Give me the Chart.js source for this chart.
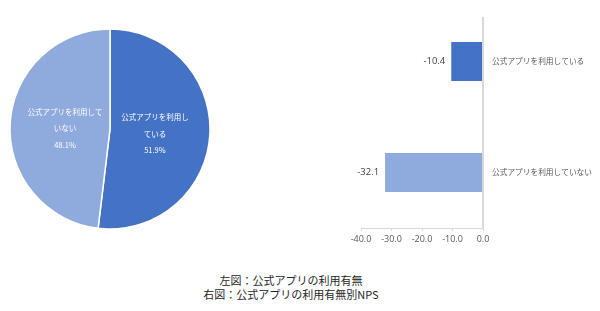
<!DOCTYPE html>
<html>
<head>
<meta charset="utf-8">
<script src="https://cdn.jsdelivr.net/npm/chart.js@4.4.1/dist/chart.umd.min.js"></script>
<style>
  html, body { margin: 0; padding: 0; background: #fff; }
  #wrap { position: relative; width: 600px; height: 311px; overflow: hidden; }
  #pieBox { position: absolute; left: 5px; top: 24px; width: 210px; height: 210px; }
  #barBox { position: absolute; left: 330px; top: 0; width: 270px; height: 260px; }
  #caption {
    position: absolute; left: 0; top: 273px; width: 582px;
    text-align: center; font: 11px 'Noto Sans CJK JP', sans-serif;
    line-height: 14px; color: #262626;
  }
</style>
</head>
<body>
<div id="wrap">
  <div id="pieBox"><canvas id="pieChart"></canvas></div>
  <div id="barBox"><canvas id="npsChart"></canvas></div>
  <div id="caption">左図：公式アプリの利用有無<br>右図：公式アプリの利用有無別NPS</div>
</div>
<script>
const pieLabels = ['公式アプリを利用している', '公式アプリを利用していない'];
const pieLabelLines = [['公式アプリを利用し', 'ている'], ['公式アプリを利用して', 'いない']];
const pieShares = [51.9, 48.1];
const pieColors = ['#4472C4', '#8FAADC'];

const npsCategories = ['公式アプリを利用している', '公式アプリを利用していない'];
const npsValues = [-10.4, -32.1];
const npsTicks = [-40, -30, -20, -10, 0];

const jpFont = "'Noto Sans CJK JP', sans-serif";

// labels inside the pie slices
const pieLabelPlugin = {
    id: 'pieLabels',
    afterDatasetsDraw(chart) {
        const ctx = chart.ctx;
        const meta = chart.getDatasetMeta(0);
        ctx.save();
        ctx.fillStyle = '#fff';
        ctx.textAlign = 'center';
        ctx.textBaseline = 'middle';
        ctx.font = '7.5px ' + jpFont;
        meta.data.forEach((arc, i) => {
            const mid = (arc.startAngle + arc.endAngle) / 2;
            const r = arc.outerRadius * 0.45;
            const cx = arc.x + Math.cos(mid) * r;
            const cy = arc.y + Math.sin(mid) * r + 2;
            const lines = pieLabelLines[i].concat([pieShares[i].toFixed(1) + '%']);
            lines.forEach((t, k) => {
                ctx.fillText(t, cx, cy + (k - 1) * 16.5);
            });
        });
        ctx.restore();
    }
};

new Chart(document.getElementById('pieChart'), {
    type: 'pie',
    data: {
        labels: pieLabels,
        datasets: [{
            data: pieShares,
            backgroundColor: pieColors,
            borderColor: '#fff',
            borderWidth: 1.5,
            radius: 100
        }]
    },
    options: {
        responsive: true,
        maintainAspectRatio: false,
        animation: false,
        plugins: { legend: { display: false }, tooltip: { enabled: false } }
    },
    plugins: [pieLabelPlugin]
});

// zero line + value labels for the NPS bars
const npsPlugin = {
    id: 'npsExtras',
    afterDatasetsDraw(chart) {
        const ctx = chart.ctx;
        const x0 = chart.scales.x.getPixelForValue(0);
        ctx.save();
        ctx.strokeStyle = '#d9d9d9';
        ctx.lineWidth = 2;
        ctx.beginPath();
        ctx.moveTo(x0, 17);
        ctx.lineTo(x0, chart.chartArea.bottom);
        ctx.stroke();

        ctx.fillStyle = '#404040';
        ctx.font = "9.5px 'Open Sans', sans-serif";
        ctx.textAlign = 'right';
        ctx.textBaseline = 'middle';
        chart.getDatasetMeta(0).data.forEach((bar, i) => {
            ctx.fillText(npsValues[i].toFixed(1), bar.x - 6, bar.y);
        });
        ctx.restore();
    }
};

new Chart(document.getElementById('npsChart'), {
    type: 'bar',
    data: {
        labels: npsCategories,
        datasets: [{
            data: npsValues,
            backgroundColor: pieColors,
            categoryPercentage: 1,
            barPercentage: 0.35
        }]
    },
    options: {
        indexAxis: 'y',
        responsive: true,
        maintainAspectRatio: false,
        animation: false,
        layout: { padding: { left: 31, top: 6, right: 0, bottom: 0 } },
        plugins: { legend: { display: false }, tooltip: { enabled: false } },
        scales: {
            x: {
                min: npsTicks[0],
                max: npsTicks[npsTicks.length - 1],
                afterBuildTicks: s => { s.ticks = npsTicks.map(v => ({ value: v })); },
                afterFit: s => { s.height = 32; },
                grid: { drawOnChartArea: false, color: '#d9d9d9', tickLength: 3 },
                border: { color: '#d9d9d9', width: 1 },
                ticks: {
                    color: '#595959',
                    padding: 3,
                    maxRotation: 0,
                    font: { family: 'Open Sans', size: 9 },
                    callback: v => Number(v).toFixed(1)
                }
            },
            y: {
                position: 'right',
                afterFit: s => { s.width = 117; s.paddingTop = 0; s.paddingBottom = 0; },
                grid: { display: false, drawTicks: false },
                border: { display: false },
                ticks: {
                    color: '#595959',
                    padding: 9,
                    font: { family: 'Noto Sans CJK JP', size: 7.7 }
                }
            }
        }
    },
    plugins: [npsPlugin]
});
</script>
</body>
</html>
